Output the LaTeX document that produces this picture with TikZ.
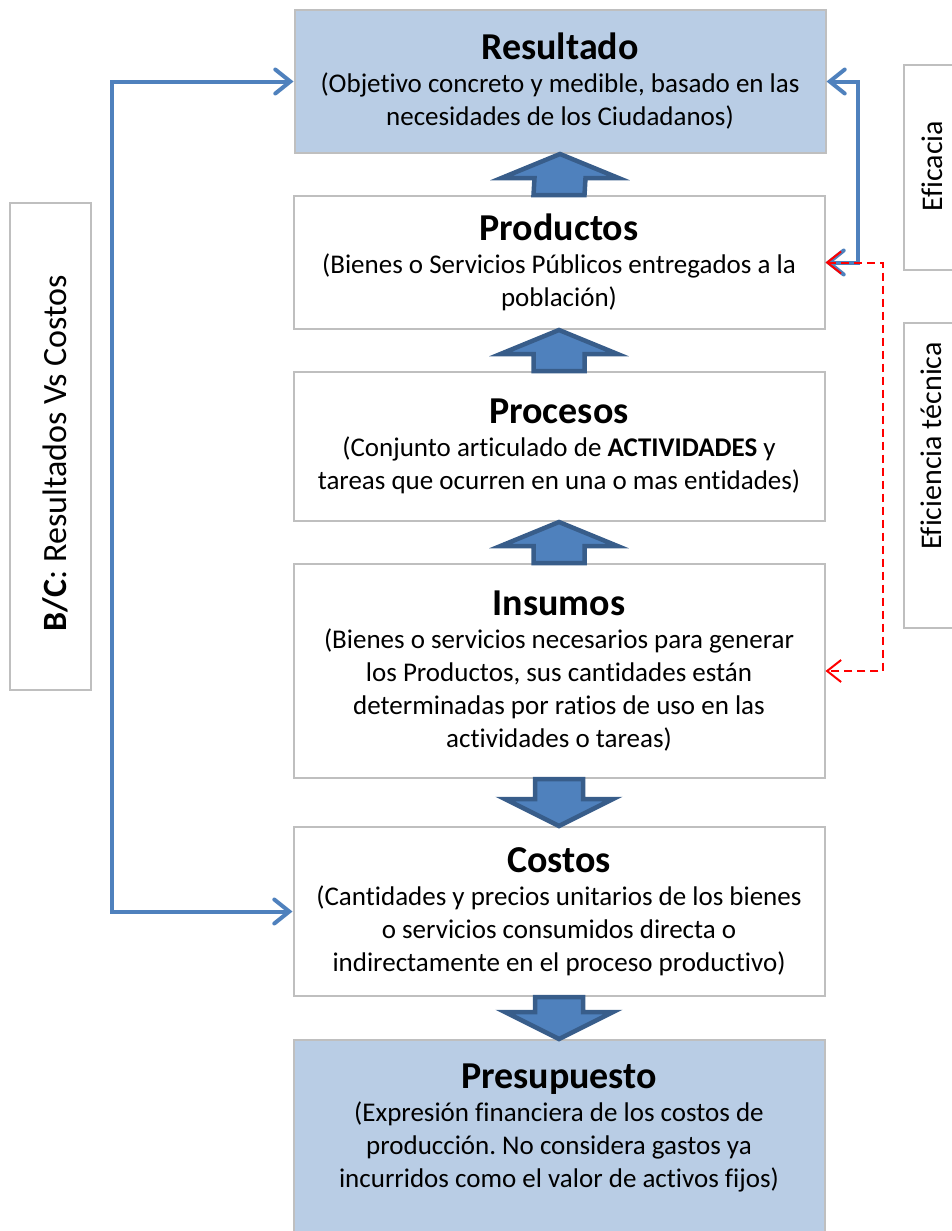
\documentclass[tikz,border=0pt]{standalone}
\usepackage{fontspec}
\setmainfont{Carlito}[Ligatures=CommonOff]
\usetikzlibrary{arrows.meta}
\frenchspacing
\definecolor{boxfill}{HTML}{B9CDE5}
\definecolor{boxline}{HTML}{BFBFBF}
\definecolor{linkblue}{HTML}{4F81BD}
\definecolor{arrowfill}{HTML}{4F81BD}
\definecolor{arrowline}{HTML}{385D8A}
\newcommand{\hd}[1]{{\fontsize{38}{40}\selectfont\bfseries #1}}
\tikzset{
  stagebox/.style={draw=boxline, line width=2pt, fill=white, minimum width=531pt,
    inner sep=0pt, align=center, font=\fontsize{27}{33}\selectfont},
  keybox/.style={stagebox, fill=boxfill},
  sidebox/.style={draw=boxline, line width=2pt, fill=white, inner sep=0pt},
  sidetext/.style={rotate=90, font=\fontsize{30}{34}\selectfont, inner sep=0pt},
  link/.style={draw=linkblue, line width=4pt, line cap=round, line join=miter,
    {Straight Barb[length=15pt,width=24pt,line cap=round]}-{Straight Barb[length=15pt,width=24pt,line cap=round]}},
  redlink/.style={draw=red, line width=2pt, dash pattern=on 8pt off 5pt,
    {Straight Barb[length=14pt,width=22pt]}-{Straight Barb[length=14pt,width=22pt]}},
  blockarrow/.style={fill=arrowfill, draw=arrowline, line width=4.5pt, line join=miter},
}
\begin{document}
\begin{tikzpicture}[x=1pt,y=-1pt]
\useasboundingbox (0,0) rectangle (952,1231);

% stages of the chain
\node[keybox, minimum height=143pt] (res) at (560,81.5)
  {\hd{Resultado}\\(Objetivo concreto y medible, basado en las\\necesidades de los Ciudadanos)};
\node[stagebox, minimum height=133pt] (prod) at (559,262.5)
  {\hd{Productos}\\(Bienes o Servicios Públicos entregados a la\\población)};
\node[stagebox, minimum height=149pt] (proc) at (559,446.5)
  {\hd{Procesos}\\(Conjunto articulado de \textbf{ACTIVIDADES} y\\tareas que ocurren en una o mas entidades)};
\node[stagebox, minimum height=214pt] (ins) at (559,671)
  {\hd{Insumos}\\(Bienes o servicios necesarios para generar\\los Productos, sus cantidades están\\determinadas por ratios de uso en las\\actividades o tareas)};
\node[stagebox, minimum height=169pt] (cost) at (559,911.5)
  {\hd{Costos}\\(Cantidades y precios unitarios de los bienes\\o servicios consumidos directa o\\indirectamente en el proceso productivo)};
\node[keybox, minimum height=192pt] (pres) at (559,1136) {};
\node[align=center, inner sep=0pt, font=\fontsize{27}{33}\selectfont] (prestext) at (559,1128)
  {\hd{Presupuesto}\\(Expresión financiera de los costos de\\producción. No considera gastos ya\\incurridos como el valor de activos fijos)};

% side labels
\node[sidebox, minimum width=81pt, minimum height=487pt] (bc) at (50.5,446.5) {};
\node[sidetext, font=\fontsize{34}{38}\selectfont] (bctext) at (55,453) {\textbf{B/C}: Resultados Vs Costos};
\node[sidebox, minimum width=70pt, minimum height=205pt, anchor=north west] (efi) at (903,64) {};
\node[sidetext] (efitext) at (932,166) {Eficacia};
\node[sidebox, minimum width=70pt, minimum height=305pt, anchor=north west] (eft) at (903,322) {};
\node[sidetext] (efttext) at (931,446) {Eficiencia técnica};

% block arrows pointing up: tip on the upper box, shaft on the lower box
\foreach \a/\b in {prod/res, proc/prod, ins/proc}{
  \draw[blockarrow] (\b.south) -- ++(58.5,24) -- ++(-33,0)
    -- ([xshift=25.5pt]\a.north) -- ([xshift=-25.5pt]\a.north)
    -- ([xshift=-25.5pt,yshift=-24pt]\b.south) -- ++(-33,0) -- cycle;
}
% block arrows pointing down
\foreach \a/\b in {ins/cost, cost/pres}{
  \draw[blockarrow] ([xshift=-24pt]\a.south) -- ([xshift=-24pt,yshift=27pt]\b.north)
    -- ++(-30,0) -- (\b.north) -- ++(54,-27) -- ++(-30,0)
    -- ([xshift=24pt]\a.south) -- cycle;
}

% connectors
\coordinate (lb) at (112,0);
\coordinate (rb) at (858,0);
\coordinate (rr) at (883,0);
\draw[link] (res.west) -- (res.west -| lb) -- (cost.west -| lb) -- (cost.west);
\draw[link] (res.east) -- (res.east -| rb) -- (prod.east -| rb) -- (prod.east);
\draw[redlink] (prod.east) -- (prod.east -| rr) -- (ins.east -| rr) -- (ins.east);
\end{tikzpicture}
\end{document}
